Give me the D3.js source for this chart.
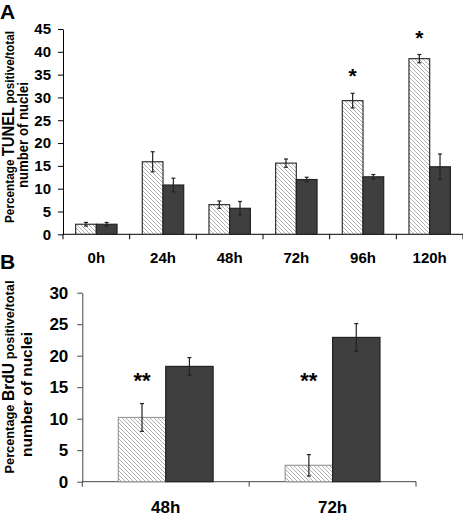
<!DOCTYPE html>
<html><head><meta charset="utf-8">
<script src="https://cdn.jsdelivr.net/npm/d3@7"></script>
<style>
html,body{margin:0;padding:0;background:#fff;}
svg{display:block;font-family:"Liberation Sans",Arial,sans-serif;}
</style></head>
<body>
<svg id="chart" width="463" height="516"></svg>
<script>
// ---- Data ----
const categoriesA = ["0h","24h","48h","72h","96h","120h"];
const lightA    = [2.2, 15.9, 6.5, 15.6, 29.3, 38.5];
const lightErrA = [0.4, 2.2, 0.8, 0.9, 1.6, 0.9];
const darkA     = [2.2, 10.8, 5.7, 12.0, 12.6, 14.8];
const darkErrA  = [0.4, 1.5, 1.5, 0.5, 0.5, 2.8];
const starsA    = ["96h","120h"];
const yTicksA   = [0,5,10,15,20,25,30,35,40,45];

const categoriesB = ["48h","72h"];
const lightB    = [10.2, 2.6];
const lightErrB = [2.2, 1.7];
const darkB     = [18.3, 22.9];
const darkErrB  = [1.4, 2.2];
const starsB    = ["48h","72h"];
const starLevelB = 16.8;
const yTicksB   = [0,5,10,15,20,25,30];

const series = ["light","dark"];

const svg = d3.select("#chart");
const defs = svg.append("defs");
const pat = defs.append("pattern").attr("id","hatch").attr("patternUnits","userSpaceOnUse")
  .attr("width",4).attr("height",4);
pat.append("rect").attr("width",4).attr("height",4).attr("fill","#fff");
pat.append("path").attr("d","M-1,-1L5,5M-1,3L1,5M3,-1L5,1").attr("stroke","#a8a8a8").attr("stroke-width",0.9);

function panel(cfg){
  const g = svg.append("g");
  const x = d3.scaleBand().domain(cfg.cats).range([cfg.x0, cfg.x1]);
  const xi = d3.scaleBand().domain(series).range([0, x.bandwidth()]).paddingInner(0).paddingOuter(cfg.pad);
  const y = d3.scaleLinear().domain([0, cfg.ymax]).range([cfg.yb, cfg.yt]);

  // y axis
  const ya = g.append("g").attr("transform",`translate(${cfg.x0},0)`)
    .call(d3.axisLeft(y).tickValues(cfg.yticks).tickSize(5).tickSizeOuter(0).tickPadding(cfg.tickPad));
  ya.selectAll("path,line").attr("stroke",cfg.axisColor);
  ya.selectAll("text").attr("font-size",cfg.tickFont).attr("font-weight","bold").attr("fill","#000")
    .attr("font-family","'Liberation Sans',Arial,sans-serif");

  // x axis line and ticks
  g.append("line").attr("x1",cfg.x0).attr("x2",cfg.xAxisEnd).attr("y1",y(0)).attr("y2",y(0))
    .attr("stroke",cfg.axisColor).attr("stroke-width",1);
  const bounds = cfg.cats.map(c=>x(c)).concat([cfg.x1]);
  g.selectAll(".xt").data(bounds).join("line")
    .attr("x1",d=>d).attr("x2",d=>d).attr("y1",y(0)).attr("y2",y(0)+5)
    .attr("stroke",cfg.axisColor);
  g.selectAll(".xl").data(cfg.cats).join("text")
    .attr("x",d=>x(d)+x.bandwidth()/2).attr("y",cfg.xLabelY)
    .attr("text-anchor","middle").attr("font-size",cfg.xFont).attr("font-weight","bold").text(d=>d);

  // bars
  const rows = [];
  cfg.cats.forEach((c,i)=>{
    rows.push({c, s:"light", v:cfg.light[i], e:cfg.lightErr[i]});
    rows.push({c, s:"dark", v:cfg.dark[i], e:cfg.darkErr[i]});
  });
  g.selectAll(".bar").data(rows).join("rect")
    .attr("x",d=>x(d.c)+xi(d.s)).attr("width",xi.bandwidth())
    .attr("y",d=>y(d.v)).attr("height",d=>y(0)-y(d.v))
    .attr("fill",d=>d.s==="light"?"url(#hatch)":"#3f3f3f")
    .attr("stroke",d=>d.s==="light"?cfg.lightStroke:"#222")
    .attr("stroke-width",1.2);
  // error bars
  const eg = g.selectAll(".err").data(rows).join("g");
  const cx = d=>x(d.c)+xi(d.s)+xi.bandwidth()/2;
  eg.append("line").attr("x1",cx).attr("x2",cx).attr("y1",d=>y(d.v+d.e)).attr("y2",d=>y(d.v-d.e))
    .attr("stroke","#222").attr("stroke-width",1.2);
  eg.append("line").attr("x1",d=>cx(d)-2).attr("x2",d=>cx(d)+2).attr("y1",d=>y(d.v+d.e)).attr("y2",d=>y(d.v+d.e))
    .attr("stroke","#222").attr("stroke-width",1.2);
  eg.append("line").attr("x1",d=>cx(d)-2).attr("x2",d=>cx(d)+2).attr("y1",d=>y(d.v-d.e)).attr("y2",d=>y(d.v-d.e))
    .attr("stroke","#222").attr("stroke-width",1.2);

  // stars
  g.selectAll(".star").data(cfg.stars).join("text")
    .attr("x",d=>x(d)+xi("light")+xi.bandwidth()/2)
    .attr("y",d=>{
      if (cfg.starLevel!=null) return y(cfg.starLevel)+cfg.starDy;
      const i = cfg.cats.indexOf(d);
      return y(cfg.light[i]+cfg.lightErr[i]) + cfg.starDy;
    })
    .attr("text-anchor","middle").attr("font-size",cfg.starFont).attr("font-weight","bold")
    .text(cfg.starText);

  // y title
  const t = g.append("g");
  const t1 = t.append("text").attr("transform",`translate(${cfg.t1x},${cfg.t1y}) rotate(-90)`)
    .attr("text-anchor","middle").attr("font-size",cfg.tFont).attr("font-weight","bold")
    .attr("textLength",cfg.t1Len).attr("lengthAdjust","spacingAndGlyphs");
  t1.append("tspan").text("Percentage ");
  t1.append("tspan").attr("font-size",cfg.tBig).text(cfg.assay);
  t1.append("tspan").text(" positive/total");
  t.append("text").attr("transform",`translate(${cfg.t2x},${cfg.t2y}) rotate(-90)`)
    .attr("text-anchor","middle").attr("font-size",cfg.t2Font).attr("font-weight","bold")
    .attr("textLength",cfg.t2Len).attr("lengthAdjust","spacingAndGlyphs").text("number of nuclei");

  svg.append("text").attr("x",cfg.lx).attr("y",cfg.ly).attr("font-size",21).attr("font-weight","bold").text(cfg.letter);
}

panel({cats:categoriesA, light:lightA, lightErr:lightErrA, dark:darkA, darkErr:darkErrA,
  x0:63, x1:463, xAxisEnd:463, yb:234.3, yt:29, ymax:45, yticks:yTicksA, pad:0.61,
  tickPad:7, tickFont:15, axisColor:"#000", xLabelY:263, xFont:15,
  lightStroke:"#333", stars:starsA, starText:"*", starFont:21, starDy:-10, starLevel:null,
  t1x:14, t1y:127, t2x:27.5, t2y:135, tFont:13.5, tBig:17, t2Font:14, t1Len:192, t2Len:106, assay:"TUNEL",
  letter:"A", lx:0, ly:19});

panel({cats:categoriesB, light:lightB, lightErr:lightErrB, dark:darkB, darkErr:darkErrB,
  x0:82.3, x1:416, xAxisEnd:416, yb:481.7, yt:292.7, ymax:30, yticks:yTicksB, pad:0.76,
  tickPad:9, tickFont:17, axisColor:"#444", xLabelY:513, xFont:17,
  lightStroke:"#999", stars:starsB, starText:"**", starFont:22, starDy:12, starLevel:starLevelB,
  t1x:14, t1y:377, t2x:32, t2y:394.5, tFont:13.5, tBig:16.5, t2Font:15.5, t1Len:193, t2Len:125, assay:"BrdU",
  letter:"B", lx:0, ly:269});
</script>
</body></html>
